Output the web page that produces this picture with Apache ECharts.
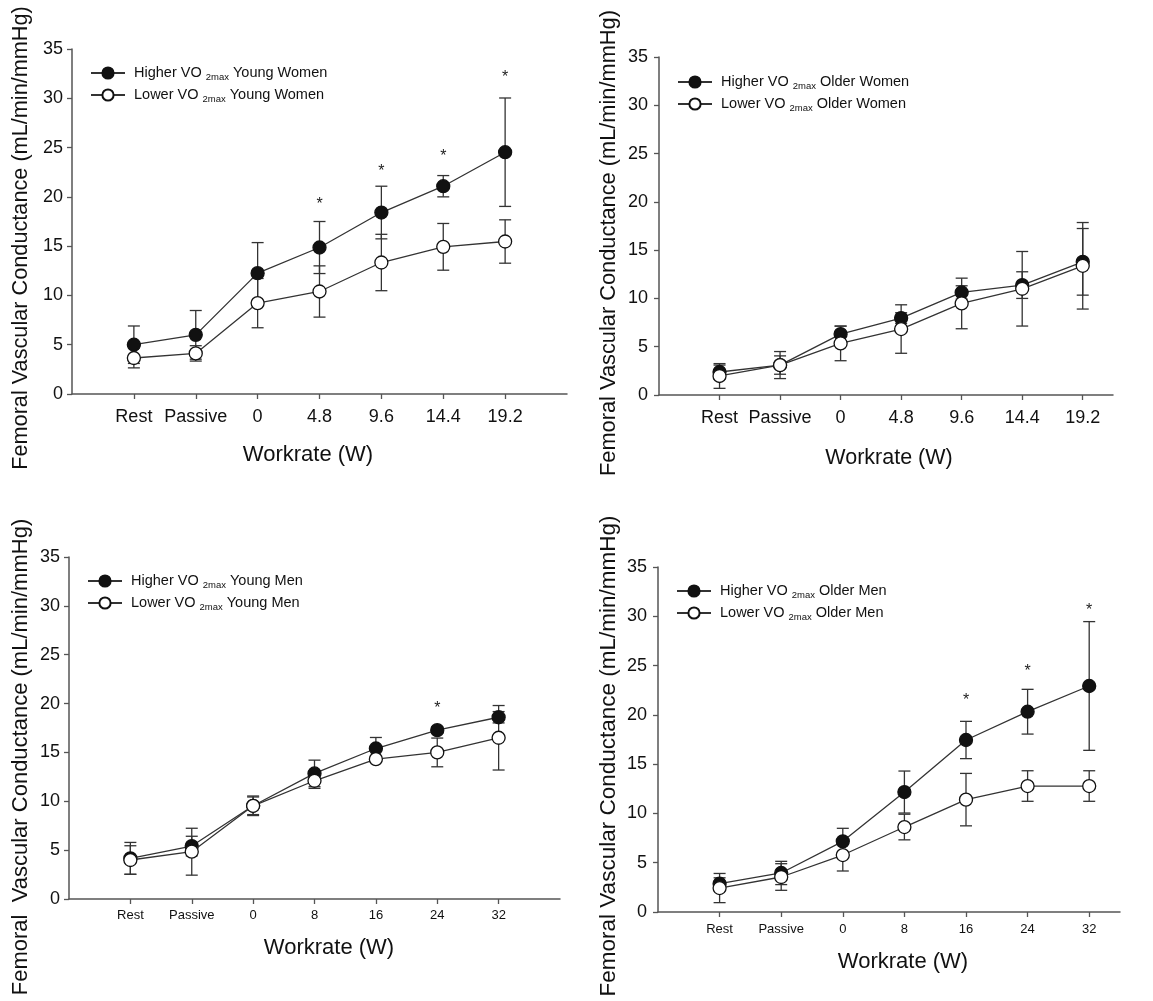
<!DOCTYPE html>
<html>
<head>
<meta charset="utf-8">
<script src="https://cdn.jsdelivr.net/npm/echarts@6/dist/echarts.min.js"></script>
<style>
  html, body { margin: 0; padding: 0; background: #fff; }
  #chart { width: 1153px; height: 1001px; }
</style>
</head>
<body>
<div id="chart"></div>
<script>
// tick labels
const womenTicks = ['Rest', 'Passive', '0', '4.8', '9.6', '14.4', '19.2'];
const menTicks = ['Rest', 'Passive', '0', '8', '16', '24', '32'];

// young women (mean, SD)
const ywHigh = [5.0, 6.0, 12.26, 14.86, 18.41, 21.08, 24.53];
const ywHighSD = [1.9, 2.47, 3.1, 2.64, 2.67, 1.08, 5.5];
const ywLow = [3.65, 4.12, 9.22, 10.4, 13.34, 14.93, 15.47];
const ywLowSD = [1.0, 0.78, 2.5, 2.6, 2.86, 2.37, 2.2];
const ywStars = [[3, 19.6], [4, 22.97], [5, 24.46], [6, 32.5]];

// older women
const owHigh = [2.38, 3.1, 6.31, 7.97, 10.62, 11.38, 13.79];
const owHighSD = [0.72, 0.95, 0.83, 0.55, 0.69, 1.38, 3.45];
const owLow = [1.97, 3.1, 5.34, 6.83, 9.48, 11.0, 13.38];
const owLowSD = [1.28, 1.4, 1.79, 2.51, 2.62, 3.86, 4.48];
const owStars = [];

// young men
const ymHigh = [4.16, 5.42, 9.54, 12.85, 15.4, 17.28, 18.6];
const ymHighSD = [1.63, 1.0, 0.9, 1.36, 1.13, 0.34, 0.58];
const ymLow = [3.99, 4.84, 9.54, 12.1, 14.31, 15.0, 16.5];
const ymLowSD = [1.46, 2.4, 1.0, 0.78, 0.3, 1.47, 3.3];
const ymStars = [[5, 19.94]];

// older men
const omHigh = [2.87, 3.96, 7.17, 12.17, 17.45, 20.32, 22.93];
const omHighSD = [0.6, 1.18, 1.32, 2.13, 1.89, 2.27, 6.53];
const omLow = [2.43, 3.55, 5.78, 8.62, 11.4, 12.78, 12.78];
const omLowSD = [1.48, 1.35, 1.62, 1.3, 2.66, 1.55, 1.55];
const omStars = [[4, 21.81], [5, 24.79], [6, 31.0]];

const FONT = "'Liberation Sans', Arial, sans-serif";
const yTitle = 'Femoral Vascular Conductance (mL/min/mmHg)';

const panels = [
  { group: 'Young Women', ticks: womenTicks, high: ywHigh, highSD: ywHighSD, low: ywLow, lowSD: ywLowSD, stars: ywStars,
    grid: { left: 72, top: 49, width: 495, height: 345 }, xMax: 7, tickFont: 18, tickMargin: 14, yMargin: 9,
    legend: { left: 90, top: 64 }, yT: [21, 238, 21.7, yTitle], xT: [308, 455, 22] },
  { group: 'Older Women', ticks: womenTicks, high: owHigh, highSD: owHighSD, low: owLow, lowSD: owLowSD, stars: owStars,
    grid: { left: 659, top: 57, width: 454, height: 338 }, xMax: 6.5, tickFont: 18, tickMargin: 14, yMargin: 11,
    legend: { left: 677, top: 73 }, yT: [609, 243, 21.8, yTitle], xT: [889, 458, 21.5] },
  { group: 'Young Men', ticks: menTicks, high: ymHigh, highSD: ymHighSD, low: ymLow, lowSD: ymLowSD, stars: ymStars,
    grid: { left: 69, top: 557, width: 491, height: 342 }, xMax: 7, tickFont: 13, tickMargin: 10, yMargin: 9,
    legend: { left: 87, top: 572 }, yT: [21, 757, 22, 'Femoral  Vascular Conductance (mL/min/mmHg)'], xT: [329, 948, 22] },
  { group: 'Older Men', ticks: menTicks, high: omHigh, highSD: omHighSD, low: omLow, lowSD: omLowSD, stars: omStars,
    grid: { left: 658, top: 567, width: 462, height: 345 }, xMax: 6.5, tickFont: 13, tickMargin: 11, yMargin: 11,
    legend: { left: 676, top: 582 }, yT: [609, 756, 22.5, yTitle], xT: [903, 962, 22] }
];

function errorBars(params, api) {
  const x = api.value(0);
  const lo = api.coord([x, api.value(1)]);
  const hi = api.coord([x, api.value(2)]);
  const w = 6;
  const st = { stroke: '#333', lineWidth: 1.3 };
  return {
    type: 'group',
    children: [
      { type: 'line', shape: { x1: lo[0], y1: lo[1], x2: hi[0], y2: hi[1] }, style: st },
      { type: 'line', shape: { x1: lo[0] - w, y1: lo[1], x2: lo[0] + w, y2: lo[1] }, style: st },
      { type: 'line', shape: { x1: hi[0] - w, y1: hi[1], x2: hi[0] + w, y2: hi[1] }, style: st }
    ]
  };
}

function stars(params, api) {
  const p = api.coord([api.value(0), api.value(1)]);
  return {
    type: 'text', x: p[0], y: p[1] + 4,
    style: { text: '*', fontSize: 16, fontFamily: FONT, fill: '#222', textAlign: 'center', textVerticalAlign: 'middle' }
  };
}

const idx = [0, 1, 2, 3, 4, 5, 6];
const option = {
  backgroundColor: '#fff',
  animation: false,
  grid: [], xAxis: [], yAxis: [], legend: [], series: [], graphic: []
};

panels.forEach(function (p, i) {
  const highName = 'Higher VO2max ' + p.group;
  const lowName = 'Lower VO2max ' + p.group;
  option.grid.push(p.grid);
  option.xAxis.push({
    gridIndex: i, type: 'value', min: -1, max: p.xMax, interval: 1,
    axisLine: { onZero: false, lineStyle: { color: '#555', width: 1.5 } },
    axisTick: { customValues: idx, length: 5, lineStyle: { color: '#555', width: 1.3 } },
    axisLabel: { customValues: idx, formatter: function (v) { return p.ticks[v]; },
      fontSize: p.tickFont, margin: p.tickMargin, color: '#111', fontFamily: FONT },
    splitLine: { show: false }
  });
  option.yAxis.push({
    gridIndex: i, type: 'value', min: 0, max: 35, interval: 5,
    axisLine: { show: true, onZero: false, lineStyle: { color: '#555', width: 1.5 } },
    axisTick: { show: true, length: 5, lineStyle: { color: '#555', width: 1.3 } },
    axisLabel: { fontSize: 18, margin: p.yMargin, color: '#111', fontFamily: FONT },
    splitLine: { show: false }
  });
  option.legend.push({
    data: [highName, lowName], orient: 'vertical', left: p.legend.left, top: p.legend.top,
    padding: 0, itemWidth: 34, itemHeight: 14, itemGap: 4, selectedMode: false,
    formatter: function (name) {
      const parts = name.split('VO2max');
      return '{t|' + parts[0] + 'VO }{s|2max}{t|' + parts[1] + '}';
    },
    textStyle: {
      color: '#111', fontFamily: FONT, padding: [0, 0, 0, 4],
      rich: {
        t: { fontSize: 14.5, fontFamily: FONT, color: '#111', lineHeight: 18 },
        s: { fontSize: 9.5, fontFamily: FONT, color: '#111', padding: [8, 0, 0, 0], lineHeight: 18 }
      }
    }
  });
  option.series.push({
    type: 'custom', xAxisIndex: i, yAxisIndex: i, z: 1, silent: true,
    renderItem: errorBars, data: idx.map(function (k) { return [k, p.high[k] - p.highSD[k], p.high[k] + p.highSD[k]]; })
  });
  option.series.push({
    type: 'custom', xAxisIndex: i, yAxisIndex: i, z: 1, silent: true,
    renderItem: errorBars, data: idx.map(function (k) { return [k, p.low[k] - p.lowSD[k], p.low[k] + p.lowSD[k]]; })
  });
  option.series.push({
    name: highName, type: 'line', xAxisIndex: i, yAxisIndex: i, z: 3,
    data: idx.map(function (k) { return [k, p.high[k]]; }),
    symbol: 'circle', symbolSize: 13,
    lineStyle: { color: '#333', width: 1.3 },
    itemStyle: { color: '#111', borderColor: '#111', borderWidth: 1.3 }
  });
  option.series.push({
    name: lowName, type: 'line', xAxisIndex: i, yAxisIndex: i, z: 4,
    data: idx.map(function (k) { return [k, p.low[k]]; }),
    symbol: 'circle', symbolSize: 13,
    lineStyle: { color: '#333', width: 1.3 },
    itemStyle: { color: '#fff', borderColor: '#111', borderWidth: 1.3 }
  });
  if (p.stars.length) {
    option.series.push({
      type: 'custom', xAxisIndex: i, yAxisIndex: i, z: 5, silent: true,
      renderItem: stars, data: p.stars
    });
  }
  option.graphic.push({
    type: 'text', x: p.yT[0], y: p.yT[1], rotation: Math.PI / 2,
    style: { text: p.yT[3], fontSize: p.yT[2], fontFamily: FONT, fill: '#111', textAlign: 'center', textVerticalAlign: 'middle' }
  });
  option.graphic.push({
    type: 'text', x: p.xT[0], y: p.xT[1],
    style: { text: 'Workrate (W)', fontSize: p.xT[2], fontFamily: FONT, fill: '#111', textAlign: 'center', textVerticalAlign: 'middle' }
  });
});

const myChart = echarts.init(document.getElementById('chart'));
myChart.setOption(option);
window.addEventListener('resize', function () {
  myChart.resize();
});
</script>
</body>
</html>
